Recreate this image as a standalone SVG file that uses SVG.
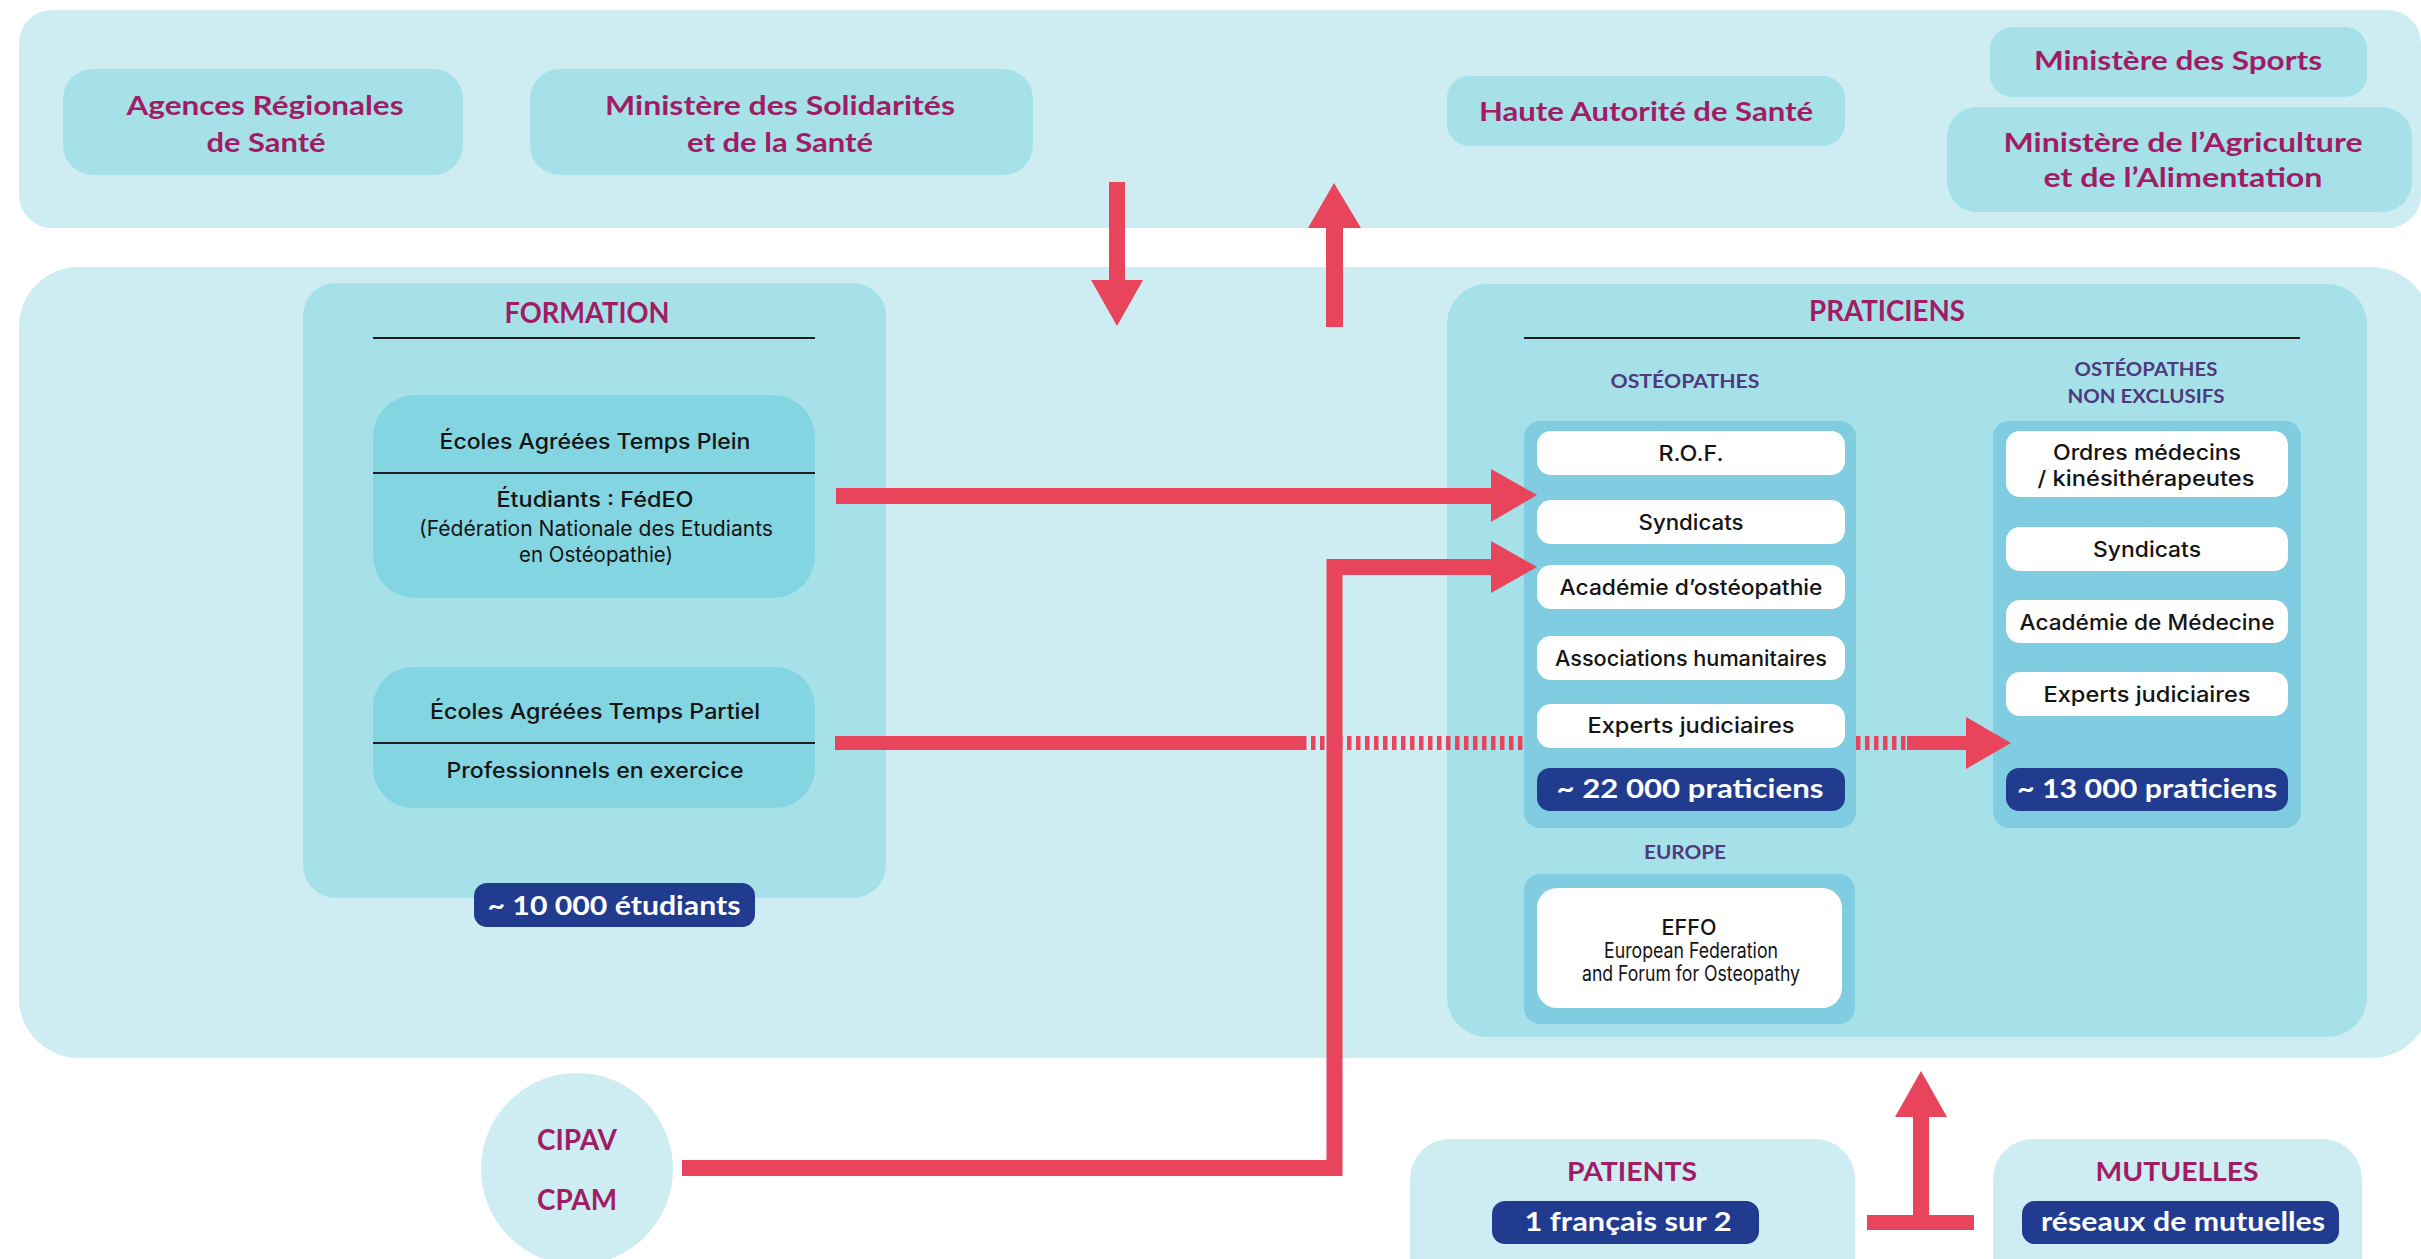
<svg xmlns="http://www.w3.org/2000/svg" width="2421" height="1259" viewBox="0 0 2421 1259">
<style>
.band{fill:#cdedf2}
.node{fill:#a6e1ea}
.sub{fill:#83d5e2}
.col{fill:#80cce0}
.item{fill:#ffffff}
.badge{fill:#213b8f}
.red{fill:#e8445c}
.redl{fill:none;stroke:#e8445c}
.rule{stroke:#1e1e1e;stroke-width:2}
.ttl{font-family:Lato,"Open Sans","Liberation Sans",sans-serif;font-weight:700;fill:#a01c64;text-anchor:middle}
.lbl{font-family:Lato,"Open Sans","Liberation Sans",sans-serif;font-weight:700;fill:#4f3a7d;text-anchor:middle;font-size:19px}
.body{font-family:Inter,Roboto,"Liberation Sans",sans-serif;font-weight:500;fill:#141414;text-anchor:middle;font-size:21px}
.thin{font-weight:400}
.bt{font-family:Lato,"Open Sans","Liberation Sans",sans-serif;font-weight:700;fill:#ffffff;text-anchor:middle;font-size:26px}
</style>
<!-- bands -->
<rect class="band" x="19" y="10" width="2402" height="218" rx="33"/>
<rect class="band" x="19" y="267" width="2412" height="791" rx="60"/>

<!-- top nodes -->
<g id="ars">
<rect class="node" x="63" y="69" width="400" height="106" rx="30"/>
<text class="ttl" font-size="26" x="265" y="115" textLength="277" lengthAdjust="spacingAndGlyphs">Agences Régionales</text>
<text class="ttl" font-size="26" x="266" y="152" textLength="119" lengthAdjust="spacingAndGlyphs">de Santé</text>
</g>
<g id="ministere-solidarites">
<rect class="node" x="530" y="69" width="503" height="106" rx="30"/>
<text class="ttl" font-size="26" x="780" y="115" textLength="350" lengthAdjust="spacingAndGlyphs">Ministère des Solidarités</text>
<text class="ttl" font-size="26" x="780" y="152" textLength="186" lengthAdjust="spacingAndGlyphs">et de la Santé</text>
</g>
<g id="has">
<rect class="node" x="1447" y="76" width="398" height="70" rx="22"/>
<text class="ttl" font-size="26" x="1646" y="121" textLength="334" lengthAdjust="spacingAndGlyphs">Haute Autorité de Santé</text>
</g>
<g id="ministere-sports">
<rect class="node" x="1990" y="27" width="377" height="70" rx="22"/>
<text class="ttl" font-size="26" x="2178" y="70" textLength="288" lengthAdjust="spacingAndGlyphs">Ministère des Sports</text>
</g>
<g id="ministere-agriculture">
<rect class="node" x="1947" y="107" width="465" height="105" rx="30"/>
<text class="ttl" font-size="26" x="2183" y="152" textLength="359" lengthAdjust="spacingAndGlyphs">Ministère de l’Agriculture</text>
<text class="ttl" font-size="26" x="2183" y="187" textLength="279" lengthAdjust="spacingAndGlyphs">et de l’Alimentation</text>
</g>

<!-- FORMATION -->
<g id="formation">
<rect class="node" x="303" y="283" width="583" height="615" rx="33"/>
<text class="ttl" font-size="28" x="587" y="323" textLength="165" lengthAdjust="spacingAndGlyphs">FORMATION</text>
<line class="rule" x1="373" y1="338" x2="815" y2="338"/>
</g>
<g id="ecoles-temps-plein">
<rect class="sub" x="373" y="395" width="442" height="203" rx="42"/>
<line class="rule" x1="373" y1="473" x2="815" y2="473" stroke-width="1.5"/>
<text class="body" font-size="23" x="595" y="449" textLength="311" lengthAdjust="spacingAndGlyphs">Écoles Agréées Temps Plein</text>
<text class="body" font-size="23" x="595" y="507" textLength="197" lengthAdjust="spacingAndGlyphs">Étudiants : FédEO</text>
<text class="body thin" font-size="19" x="596" y="536" textLength="354" lengthAdjust="spacingAndGlyphs">(Fédération Nationale des Etudiants</text>
<text class="body thin" font-size="19" x="596" y="562" textLength="154" lengthAdjust="spacingAndGlyphs">en Ostéopathie)</text>
</g>
<g id="ecoles-temps-partiel">
<rect class="sub" x="373" y="667" width="442" height="141" rx="40"/>
<line class="rule" x1="373" y1="743" x2="815" y2="743" stroke-width="1.5"/>
<text class="body" font-size="23" x="595" y="719" textLength="330" lengthAdjust="spacingAndGlyphs">Écoles Agréées Temps Partiel</text>
<text class="body" font-size="23" x="595" y="778" textLength="297" lengthAdjust="spacingAndGlyphs">Professionnels en exercice</text>
</g>
<g id="etudiants-count">
<rect class="badge" x="474" y="883" width="281" height="44" rx="13"/>
<text class="bt" x="614" y="915" textLength="253" lengthAdjust="spacingAndGlyphs">~ 10 000 étudiants</text>
</g>

<!-- PRATICIENS -->
<g id="praticiens">
<rect class="node" x="1447" y="284" width="920" height="753" rx="40"/>
<text class="ttl" font-size="28" x="1887" y="321" textLength="156" lengthAdjust="spacingAndGlyphs">PRATICIENS</text>
<line class="rule" x1="1524" y1="338" x2="2300" y2="338"/>
<text class="lbl" x="1685" y="388" textLength="149" lengthAdjust="spacingAndGlyphs">OSTÉOPATHES</text>
<text class="lbl" x="2146" y="376" textLength="143" lengthAdjust="spacingAndGlyphs">OSTÉOPATHES</text>
<text class="lbl" x="2146" y="403" textLength="157" lengthAdjust="spacingAndGlyphs">NON EXCLUSIFS</text>
<text class="lbl" x="1685" y="859" textLength="82" lengthAdjust="spacingAndGlyphs">EUROPE</text>
</g>
<g id="osteopathes">
<rect class="col" x="1524" y="421" width="332" height="407" rx="16"/>
<rect class="item" x="1537" y="431" width="308" height="44" rx="14"/>
<text class="body" x="1691" y="461" textLength="65" lengthAdjust="spacingAndGlyphs">R.O.F.</text>
<rect class="item" x="1537" y="500" width="308" height="44" rx="14"/>
<text class="body" x="1691" y="530" textLength="105" lengthAdjust="spacingAndGlyphs">Syndicats</text>
<rect class="item" x="1537" y="565" width="308" height="44" rx="14"/>
<text class="body" x="1691" y="595" textLength="263" lengthAdjust="spacingAndGlyphs">Académie d’ostéopathie</text>
<rect class="item" x="1537" y="636" width="308" height="44" rx="14"/>
<text class="body" x="1691" y="666" textLength="272" lengthAdjust="spacingAndGlyphs">Associations humanitaires</text>
<rect class="item" x="1537" y="704" width="308" height="44" rx="14"/>
<text class="body" x="1691" y="733" textLength="207" lengthAdjust="spacingAndGlyphs">Experts judiciaires</text>
<rect class="badge" x="1537" y="768" width="308" height="43" rx="13"/>
<text class="bt" x="1690" y="798" textLength="267" lengthAdjust="spacingAndGlyphs">~ 22 000 praticiens</text>
</g>
<g id="osteopathes-non-exclusifs">
<rect class="col" x="1993" y="421" width="308" height="407" rx="16"/>
<rect class="item" x="2006" y="431" width="282" height="66" rx="14"/>
<text class="body" x="2147" y="460" textLength="188" lengthAdjust="spacingAndGlyphs">Ordres médecins</text>
<text class="body" x="2146" y="486" textLength="217" lengthAdjust="spacingAndGlyphs">/ kinésithérapeutes</text>
<rect class="item" x="2006" y="527" width="282" height="44" rx="14"/>
<text class="body" x="2147" y="557" textLength="108" lengthAdjust="spacingAndGlyphs">Syndicats</text>
<rect class="item" x="2006" y="600" width="282" height="43" rx="14"/>
<text class="body" x="2147" y="630" textLength="255" lengthAdjust="spacingAndGlyphs">Académie de Médecine</text>
<rect class="item" x="2006" y="672" width="282" height="44" rx="14"/>
<text class="body" x="2147" y="702" textLength="207" lengthAdjust="spacingAndGlyphs">Experts judiciaires</text>
<rect class="badge" x="2006" y="768" width="282" height="43" rx="13"/>
<text class="bt" x="2147" y="798" textLength="260" lengthAdjust="spacingAndGlyphs">~ 13 000 praticiens</text>
</g>
<g id="effo">
<rect class="col" x="1524" y="874" width="331" height="150" rx="16"/>
<rect class="item" x="1537" y="888" width="305" height="120" rx="20"/>
<text class="body" font-size="22" x="1689" y="935" textLength="55" lengthAdjust="spacingAndGlyphs">EFFO</text>
<text class="body thin" font-size="16" x="1691" y="958" textLength="174" lengthAdjust="spacingAndGlyphs">European Federation</text>
<text class="body thin" font-size="16" x="1691" y="981" textLength="218" lengthAdjust="spacingAndGlyphs">and Forum for Osteopathy</text>
</g>

<!-- bottom nodes -->
<g id="cipav-cpam">
<circle class="band" cx="577" cy="1169" r="96"/>
<text class="ttl" font-size="28" x="577" y="1150" textLength="80" lengthAdjust="spacingAndGlyphs">CIPAV</text>
<text class="ttl" font-size="28" x="577" y="1210" textLength="80" lengthAdjust="spacingAndGlyphs">CPAM</text>
</g>
<g id="patients">
<rect class="band" x="1410" y="1139" width="445" height="170" rx="40"/>
<text class="ttl" font-size="27" x="1632" y="1181" textLength="130" lengthAdjust="spacingAndGlyphs">PATIENTS</text>
<rect class="badge" x="1492" y="1201" width="267" height="43" rx="13"/>
<text class="bt" x="1628" y="1231" textLength="207" lengthAdjust="spacingAndGlyphs">1 français sur 2</text>
</g>
<g id="mutuelles">
<rect class="band" x="1993" y="1139" width="369" height="170" rx="40"/>
<text class="ttl" font-size="27" x="2177" y="1181" textLength="163" lengthAdjust="spacingAndGlyphs">MUTUELLES</text>
<rect class="badge" x="2022" y="1201" width="317" height="43" rx="13"/>
<text class="bt" x="2183" y="1231" textLength="284" lengthAdjust="spacingAndGlyphs">réseaux de mutuelles</text>
</g>

<!-- connectors -->
<g id="connectors">
<rect class="red" x="1109" y="182" width="16" height="99"/>
<polygon class="red" points="1091,280 1143,280 1117,326"/>
<rect class="red" x="1326" y="227" width="17" height="100"/>
<polygon class="red" points="1308,228 1361,228 1334,183"/>
<rect class="red" x="836" y="488" width="656" height="16"/>
<polygon class="red" points="1491,469 1491,522 1537,495"/>
<rect class="red" x="835" y="736" width="467" height="14"/>
<line class="redl" x1="1302" y1="743" x2="1524" y2="743" stroke-width="14" stroke-dasharray="4.5 4.5"/>
<line class="redl" x1="1856" y1="743" x2="1907" y2="743" stroke-width="14" stroke-dasharray="4.5 4.5"/>
<rect class="red" x="1907" y="736" width="60" height="14"/>
<polygon class="red" points="1966,717 1966,769 2011,743"/>
<polyline class="redl" stroke-width="16" points="682,1168 1334.5,1168 1334.5,567 1492,567"/>
<polygon class="red" points="1491,541 1491,593 1537,567"/>
<rect class="red" x="1867" y="1215" width="107" height="15"/>
<rect class="red" x="1913" y="1116" width="16" height="100"/>
<polygon class="red" points="1895,1117 1947,1117 1921,1071"/>
</g>
</svg>
